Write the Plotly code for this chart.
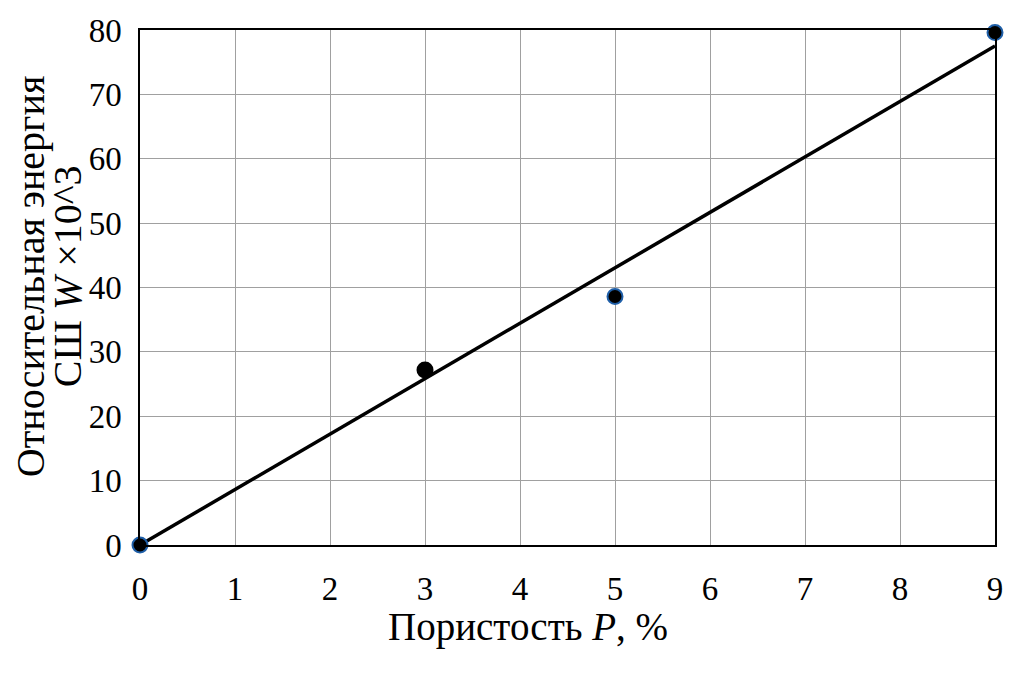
import plotly.graph_objects as go

porosity = [0, 3, 5, 9]
energy = [0, 27.2, 38.6, 79.6]
outline_colors = ["#1f5fa8", "#000000", "#1f5fa8", "#1f5fa8"]
fit_x = [0, 9]
fit_y = [0, 77.5]
x_ticks = [0, 1, 2, 3, 4, 5, 6, 7, 8, 9]
y_ticks = [0, 10, 20, 30, 40, 50, 60, 70, 80]
x_title = "Пористость <i>P</i>, %"
y_title_1 = "Относительная энергия"
y_title_2 = "СШ <i>W</i> ×10^3"

font = "Liberation Serif, Times New Roman, serif"

fig = go.Figure()
fig.add_trace(go.Scatter(x=fit_x, y=fit_y, mode="lines",
                         line=dict(color="black", width=3.5), cliponaxis=False,
                         showlegend=False))
fig.add_trace(go.Scatter(x=porosity, y=energy, mode="markers",
                         marker=dict(color="black", size=15,
                                     line=dict(color=outline_colors, width=2)),
                         cliponaxis=False, showlegend=False))

fig.update_layout(
    width=1026, height=678,
    margin=dict(l=132, r=39, t=22, b=141),
    paper_bgcolor="white", plot_bgcolor="white",
    font=dict(family=font, size=33, color="black"),
    annotations=[
        dict(text=x_title, xref="paper", yref="paper", x=0.454, y=-0.159,
             xanchor="center", yanchor="middle", showarrow=False,
             font=dict(size=39)),
        dict(text=y_title_1, xref="paper", yref="paper", x=-0.1287, y=0.522,
             xanchor="center", yanchor="middle", showarrow=False, textangle=-90,
             font=dict(size=40)),
        dict(text=y_title_2, xref="paper", yref="paper", x=-0.0854, y=0.522,
             xanchor="center", yanchor="middle", showarrow=False, textangle=-90,
             font=dict(size=40)),
    ],
)
fig.update_xaxes(range=[0, 9], tickvals=x_ticks, showgrid=True, gridcolor="#a0a0a0",
                 gridwidth=1, showline=True, linecolor="black", linewidth=1.5,
                 mirror=True, zeroline=False, ticks="outside", ticklen=14,
                 tickcolor="rgba(0,0,0,0)", automargin=False)
fig.update_yaxes(range=[0, 80], tickvals=y_ticks, showgrid=True, gridcolor="#a0a0a0",
                 gridwidth=1, showline=True, linecolor="black", linewidth=1.5,
                 mirror=True, zeroline=False, ticks="outside", ticklen=10,
                 tickcolor="rgba(0,0,0,0)", automargin=False)

fig.write_html("out.html")
